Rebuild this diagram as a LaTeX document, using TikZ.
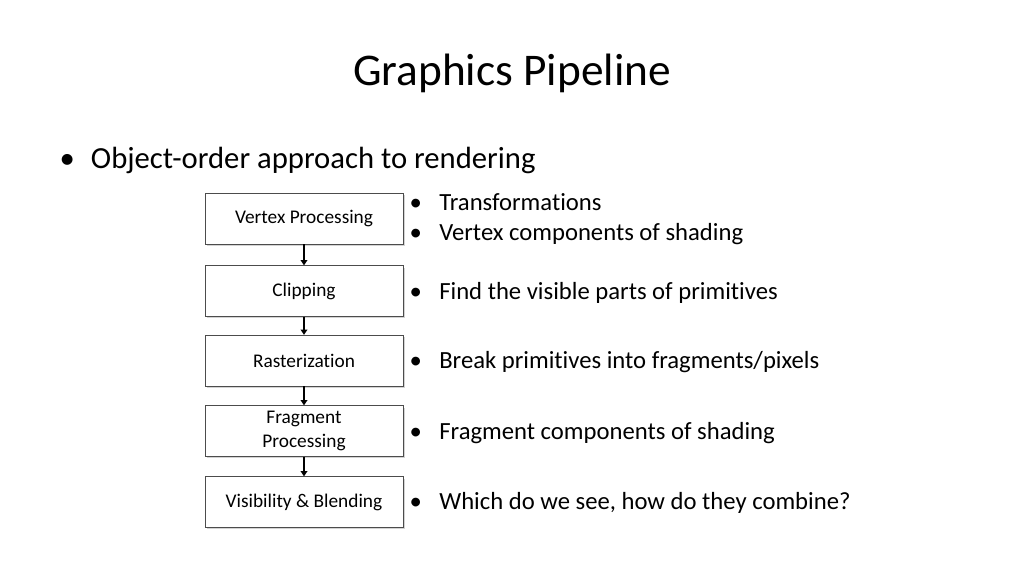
\documentclass[tikz,border=0pt]{standalone}
\usepackage{fontspec}
\setmainfont{Carlito}[Ligatures=NoCommon]
\usetikzlibrary{shadows,arrows.meta}

\begin{document}
\begin{tikzpicture}[x=0.75pt, y=-0.75pt,
        stage/.style={draw=black!70, fill=white, minimum width=148.5pt, minimum height=38pt,
          align=center, font=\fontsize{14.5}{18}\selectfont, drop shadow={shadow xshift=1.5pt, shadow yshift=-1.5pt, opacity=0.35}},
        note/.style={anchor=west, align=left, font=\fontsize{18.5}{23}\selectfont},
        flow/.style={-{Triangle[length=4pt,width=5pt]}, line width=1.5pt}]
      \useasboundingbox (0,0) rectangle (1024,576);
      \node (title) at (512,73) {\fontsize{34}{40}\selectfont Graphics Pipeline};
      \node (main) [anchor=west] at (55,160) {\fontsize{23}{28}\selectfont \textbullet\hspace{12pt}Object-order approach to rendering};
      % pipeline stages
      \node (vertex) [stage] at (304,218.5) {Vertex Processing};
      \node (clip) [stage] at (304,291) {Clipping};
      \node (raster) [stage] at (304,360.5) {Rasterization};
      \node (frag) [stage] at (304,431) {Fragment\\Processing};
      \node (vis) [stage] at (304,502) {Visibility \& Blending};
      \draw[flow] (vertex) -- (clip);
      \draw[flow] (clip) -- (raster);
      \draw[flow] (raster) -- (frag);
      \draw[flow] (frag) -- (vis);
      % notes
      \node (nvertex) [note] at (405,219) {\textbullet\hspace{13pt}Transformations\\\textbullet\hspace{13pt}Vertex components of shading};
      \node (nclip) [note] at (405,293) {\textbullet\hspace{13pt}Find the visible parts of primitives};
      \node (nraster) [note] at (405,362) {\textbullet\hspace{13pt}Break primitives into fragments/pixels};
      \node (nfrag) [note] at (405,433) {\textbullet\hspace{13pt}Fragment components of shading};
      \node (nvis) [note] at (405,503) {\textbullet\hspace{13pt}Which do we see, how do they combine?};
    \end{tikzpicture}
\end{document}
